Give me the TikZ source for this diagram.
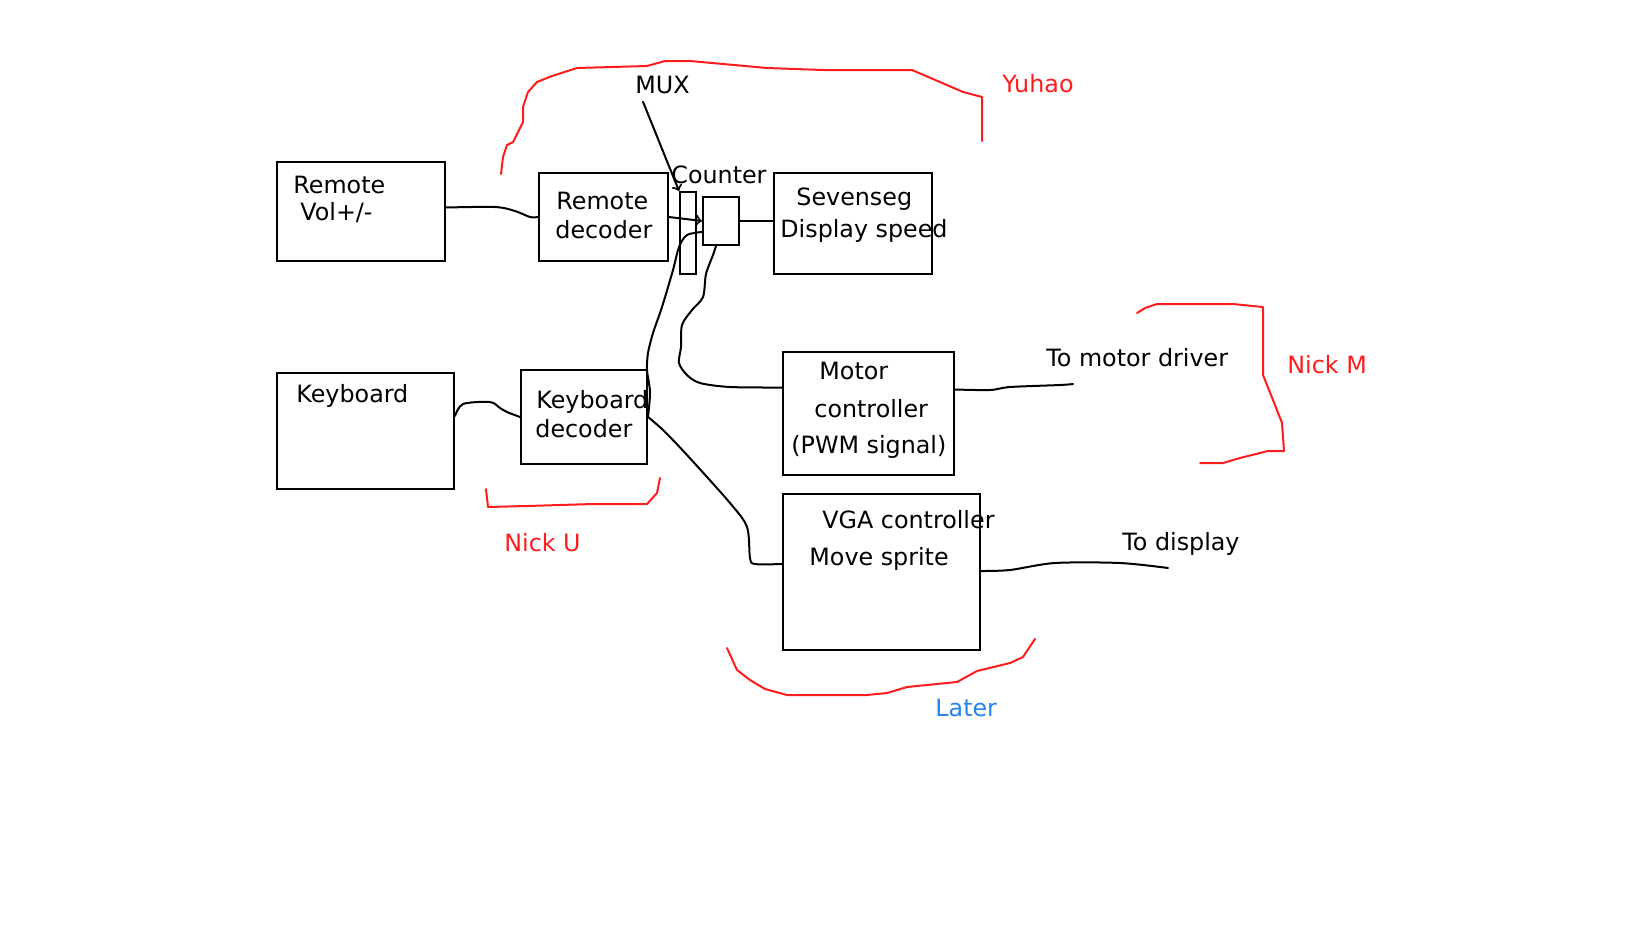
\documentclass[tikz,border=0pt]{standalone}
\usepackage{fontspec}
\setmainfont{DejaVu Sans}
\usetikzlibrary{fit}

\definecolor{penred}{RGB}{255,28,28}
\definecolor{penblue}{RGB}{38,132,240}

\begin{document}
\begin{tikzpicture}[x=0.5pt,y=-0.5pt,
    blk/.style={draw, line width=1pt, inner sep=0pt},
    txt/.style={anchor=base west, inner sep=0pt, font=\fontsize{11.9}{14}\selectfont},
    wire/.style={line width=1pt, line join=round, line cap=round},
    redline/.style={penred, line width=1pt, line join=round, line cap=round}]
    \useasboundingbox (0,0) rectangle (1648,927);
    % boxes
    \node[blk, fit={(277,162) (445,261)}] (rem) {};
    \node[blk, fit={(539,173) (668,261)}] (remdec) {};
    \node[blk, fit={(680,192) (696,274)}] (mux) {};
    \node[blk, fit={(703,197) (739,245)}] (cnt) {};
    \node[blk, fit={(774,173) (932,274)}] (seg) {};
    \node[blk, fit={(277,373) (454,489)}] (kb) {};
    \node[blk, fit={(521,370) (647,464)}] (kbdec) {};
    \node[blk, fit={(783,352) (954,475)}] (motor) {};
    \node[blk, fit={(783,494) (980,650)}] (vga) {};
    % texts
    \node[txt] (remA) at (293,193) {Remote};
    \node[txt] (remB) at (300,220) {Vol+/-};
    \node[txt] (remdecA) at (556,209) {Remote};
    \node[txt] (remdecB) at (555,238) {decoder};
    \node[txt] (muxlbl) at (635,93) {MUX};
    \node[txt] (cntlbl) at (671,183) {Counter};
    \node[txt] (segA) at (796,205) {Sevenseg};
    \node[txt] (segB) at (780,237) {Display speed};
    \node[txt] (kbA) at (296,402) {Keyboard};
    \node[txt] (kbdecA) at (536,408) {Keyboard};
    \node[txt] (kbdecB) at (535,437) {decoder};
    \node[txt] (motorA) at (819,379) {Motor};
    \node[txt] (motorB) at (814,417) {controller};
    \node[txt] (motorC) at (791,453) {(PWM signal)};
    \node[txt] (vgaA) at (822,528) {VGA controller};
    \node[txt] (vgaB) at (809,565) {Move sprite};
    \node[txt] (drvlbl) at (1046,366) {To motor driver};
    \node[txt] (displbl) at (1122,550) {To display};
    \node[txt, text=penred] (yuhao) at (1002,92) {Yuhao};
    \node[txt, text=penred] (nickm) at (1287,373) {Nick M};
    \node[txt, text=penred] (nicku) at (504,551) {Nick U};
    \node[txt, text=penblue] (later) at (935,716) {Later};
    % connectors
    \draw[wire] plot[smooth] coordinates {([yshift=2pt]rem.east) (495,207) (515,211) (530,217) (remdec.west)};
    \draw[wire, ->] (remdec.east) -- (cnt.west);
    \draw[wire, ->] ([xshift=4pt,yshift=-4pt]muxlbl.south west) -- (mux.north west);
    \draw[wire] (cnt.east) -- (cnt.east -| seg.west);
    \draw[wire] plot[smooth] coordinates {([yshift=7.5pt]kb.east) (463,404) (490,402) (500,408) (507,412) (kbdec.west)};
    \draw[wire] plot[smooth] coordinates {(kbdec.east) (650,392) (647,370) (648,353) (653,333)
        (662,307) (673,270) (679,247) (687,235) ([yshift=-5.5pt]cnt.west)};
    \draw[wire] plot[smooth] coordinates {(kbdec.east) (663,430) (687,455) (730,503) (747,527)
        (750,558) (755,564) ([yshift=4pt]vga.west)};
    \draw[wire] plot[smooth] coordinates {([xshift=-2.5pt]cnt.south) (713,255) (706,274) (703,297) (692,310)
        (682,325) (681,347) (679,363) (687,375) (700,383) (730,387) ([yshift=13pt]motor.west)};
    \coordinate (drvend) at (1073,384);
    \draw[wire] plot[smooth] coordinates {([yshift=12pt]motor.east) (990,390) (1010,387) (1060,385) (drvend)};
    \coordinate (dispend) at (1168,568);
    \draw[wire] plot[smooth] coordinates {([yshift=0.5pt]vga.east) (1010,570) (1055,563) (1120,563) (dispend)};
    % red brackets
    \draw[redline] (501,174) -- (503,157) -- (507,145) -- (513,142) -- (523,122) -- (523,107)
        -- (528,92) -- (537,82) -- (552,76) -- (577,68) -- (647,66) -- (665,61) -- (690,61)
        -- (767,68) -- (823,70) -- (912,70) -- (933,79) -- (963,92) -- (982,97) -- (982,141);
    \draw[redline] (1137,313) -- (1145,308) -- (1157,304) -- (1233,304) -- (1263,307) -- (1263,375)
        -- (1273,400) -- (1282,423) -- (1284,451) -- (1268,451) -- (1240,458) -- (1223,463) -- (1200,463);
    \draw[redline] (486,489) -- (488,507) -- (527,506) -- (593,504) -- (647,504) -- (657,493) -- (660,478);
    \draw[redline] (727,648) -- (737,670) -- (750,680) -- (765,689) -- (787,695) -- (867,695)
        -- (887,693) -- (907,687) -- (957,682) -- (977,671) -- (1010,663) -- (1023,657) -- (1035,639);
\end{tikzpicture}
\end{document}
